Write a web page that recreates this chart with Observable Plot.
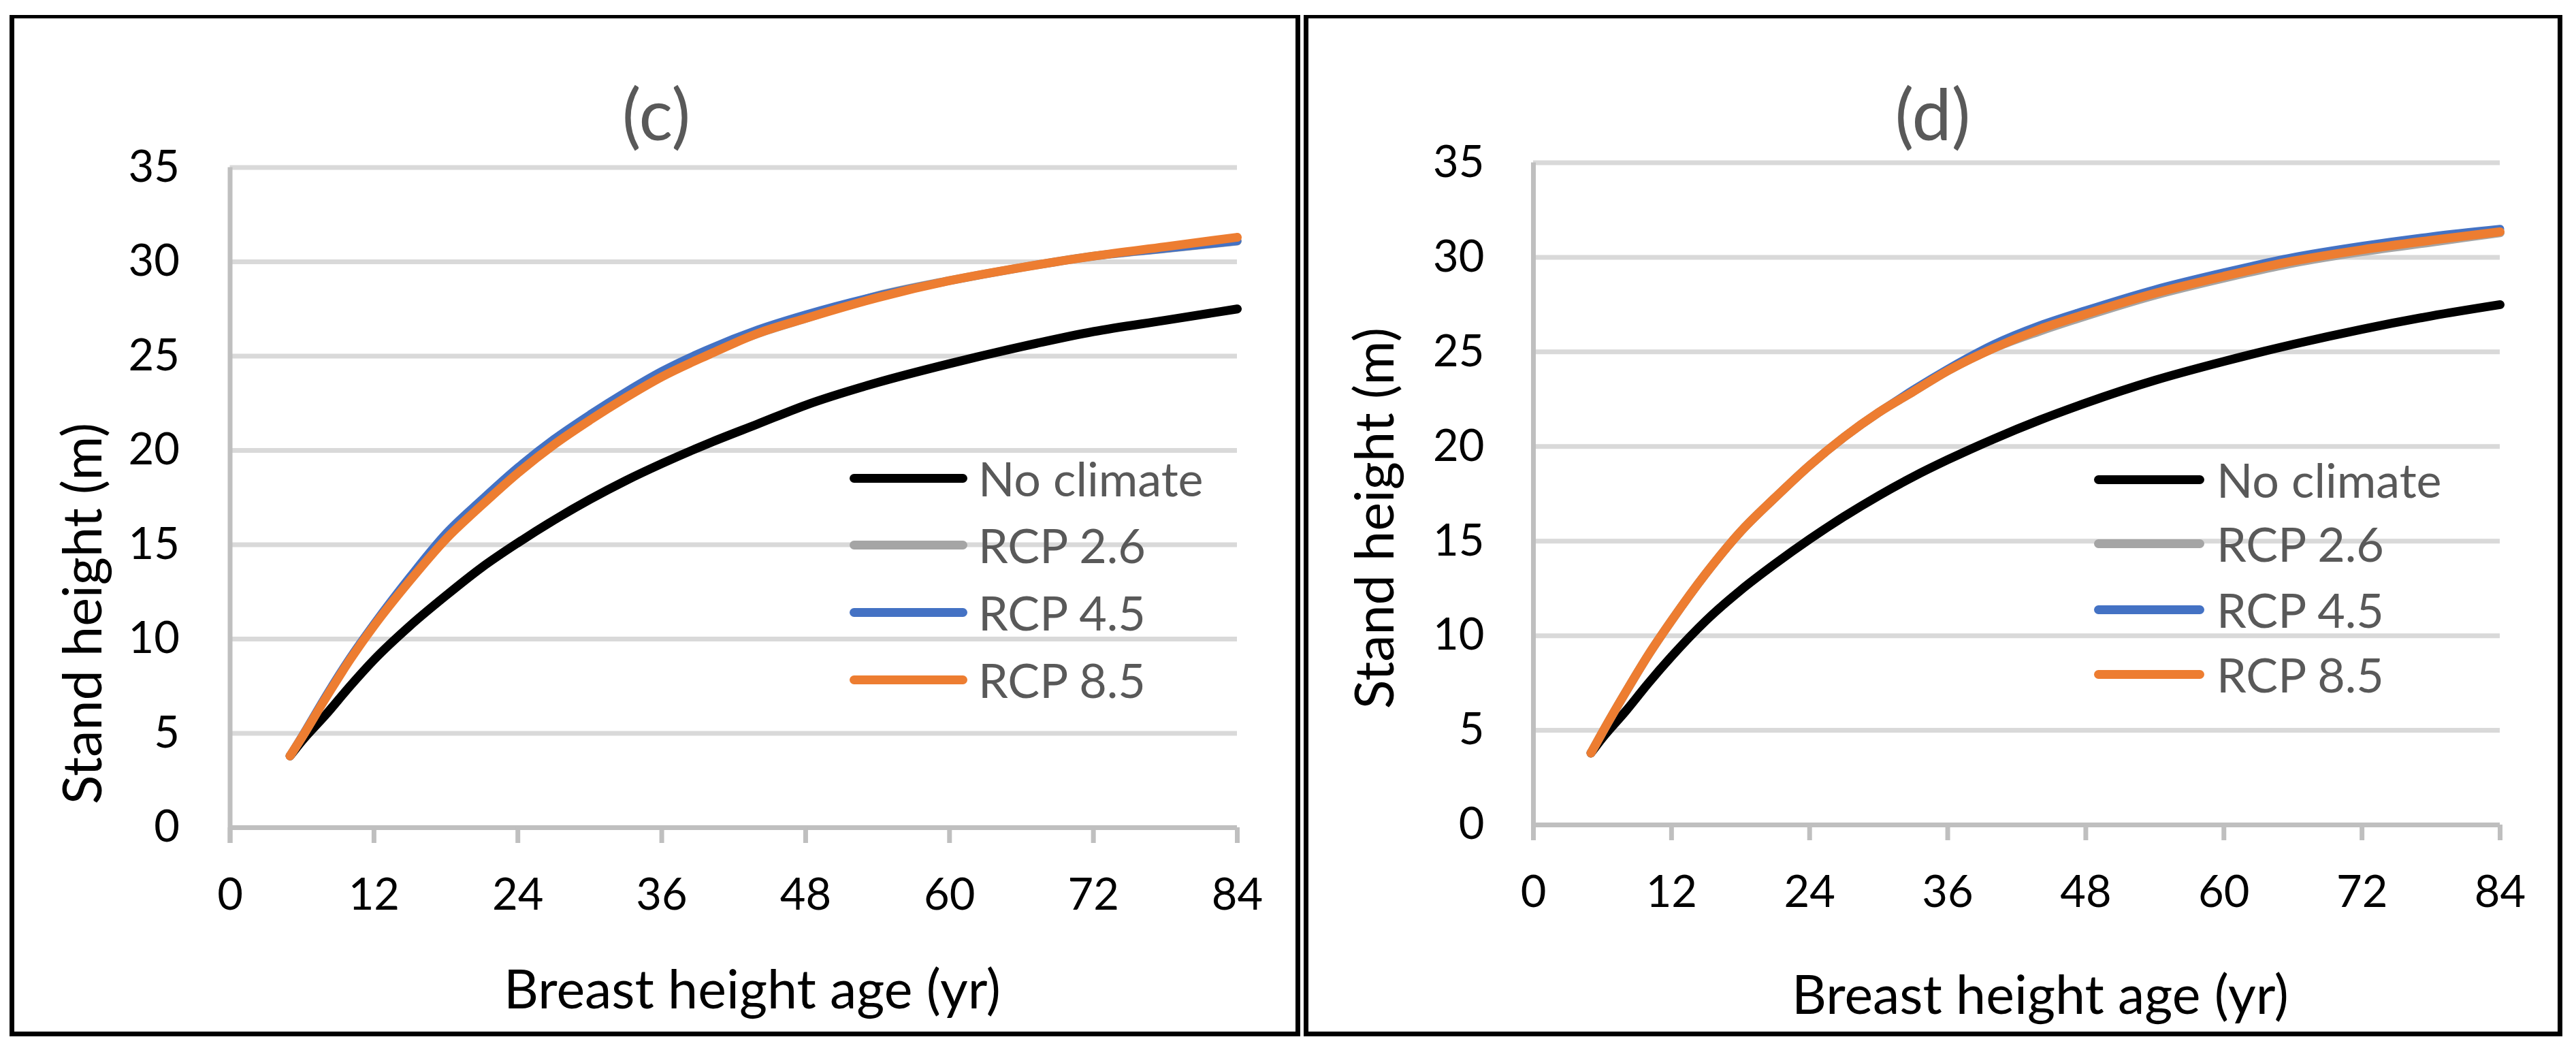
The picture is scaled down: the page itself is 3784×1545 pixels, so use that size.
<!DOCTYPE html>
<html>
<head>
<meta charset="utf-8">
<script src="https://cdn.jsdelivr.net/npm/d3@7"></script>
<script src="https://cdn.jsdelivr.net/npm/@observablehq/plot@0.6"></script>
<style>
  html, body { margin: 0; padding: 0; background: #fff; }
  #root { position: relative; width: 3784px; height: 1545px; overflow: hidden; background: #fff; font-family: Lato, "Open Sans", sans-serif; }
  .frame { position: absolute; box-sizing: border-box; border: 7px solid #000; border-top-width: 5px; }
  .abs { position: absolute; white-space: nowrap; line-height: 1; }
  .plotbox { position: absolute; top: 0; }
  .plotbox svg { max-width: none !important; overflow: visible; }
</style>
</head>
<body>
<div id="root"></div>
<script>
// ---------------- data ----------------
const ages = [5, 6, 8, 10, 12, 15, 18, 21, 24, 27, 30, 33, 36, 40, 44, 48, 54, 60, 66, 72, 78, 84];

// panel (c)
const cNoClimate = [3.8, 4.6, 6.0, 7.5, 8.9, 10.7, 12.3, 13.8, 15.1, 16.3, 17.4, 18.4, 19.3, 20.4, 21.4, 22.4, 23.6, 24.6, 25.5, 26.3, 26.9, 27.5];
const cRcp26     = [3.8, 4.8, 6.95, 8.95, 10.75, 13.2, 15.4, 17.2, 18.9, 20.4, 21.7, 22.9, 24.0, 25.2, 26.2, 27.0, 28.2, 29.0, 29.7, 30.3, 30.7, 31.1];
const cRcp45     = [3.8, 4.85, 7.0, 9.0, 10.8, 13.3, 15.6, 17.4, 19.1, 20.6, 21.9, 23.1, 24.2, 25.4, 26.4, 27.2, 28.2, 29.0, 29.7, 30.3, 30.7, 31.1];
const cRcp85     = [3.8, 4.8, 6.9, 8.9, 10.7, 13.1, 15.3, 17.1, 18.8, 20.3, 21.6, 22.8, 23.9, 25.1, 26.2, 27.0, 28.1, 29.0, 29.7, 30.3, 30.8, 31.3];

// panel (d)
const dNoClimate = [3.8, 4.6, 6.0, 7.5, 8.9, 10.8, 12.4, 13.8, 15.1, 16.3, 17.4, 18.4, 19.3, 20.4, 21.4, 22.3, 23.5, 24.5, 25.4, 26.2, 26.9, 27.5];
const dRcp26     = [3.8, 4.9, 7.0, 9.0, 10.8, 13.3, 15.5, 17.3, 19.0, 20.5, 21.8, 22.9, 24.0, 25.2, 26.1, 26.9, 28.0, 28.9, 29.7, 30.3, 30.8, 31.3];
const dRcp45     = [3.8, 4.9, 7.0, 9.0, 10.8, 13.3, 15.5, 17.3, 19.0, 20.5, 21.8, 23.0, 24.1, 25.4, 26.4, 27.2, 28.3, 29.2, 30.0, 30.6, 31.1, 31.5];
const dRcp85     = [3.8, 4.9, 7.0, 9.0, 10.8, 13.3, 15.5, 17.3, 19.0, 20.5, 21.8, 22.9, 24.0, 25.2, 26.2, 27.0, 28.1, 29.0, 29.8, 30.4, 30.9, 31.35];

const seriesNames  = ["No climate", "RCP 2.6", "RCP 4.5", "RCP 8.5"];
const seriesColors = ["#000000", "#a5a5a5", "#4472c4", "#ed7d31"];
const xTicks = [0, 12, 24, 36, 48, 60, 72, 84];
const yTicks = [0, 5, 10, 15, 20, 25, 30, 35];
const panelTitles = ["(c)", "(d)"];
const xTitle = "Breast height age (yr)";
const yTitle = "Stand height (m)";

// ---------------- drawing ----------------
const root = document.getElementById("root");
const FONT = 'Lato, "Open Sans", sans-serif';

function addDiv(cls, css, text) {
  const d = document.createElement("div");
  d.className = cls;
  Object.assign(d.style, css);
  if (text != null) d.textContent = text;
  root.appendChild(d);
  return d;
}

function panel(cfg) {
  addDiv("frame", {left: cfg.frame[0] + "px", top: cfg.frame[1] + "px",
    width: (cfg.frame[2] - cfg.frame[0]) + "px", height: (cfg.frame[3] - cfg.frame[1]) + "px"});

  const values = cfg.values;
  const rows = seriesNames.map((s, i) => ages.map((a, j) => ({age: a, h: values[i][j], series: s})));

  const lineWidths = [13, 13, 12, 13];
  const chart = Plot.plot({
    width: cfg.width,
    height: 1545,
    marginLeft: cfg.mL, marginRight: cfg.mR, marginTop: cfg.mT, marginBottom: cfg.mB,
    x: {domain: [0, 84]},
    y: {domain: [0, 35]},
    style: {fontFamily: FONT, fontSize: "65px", color: "#000", background: "transparent", overflow: "visible"},
    marks: [
      Plot.gridY(yTicks, {stroke: "#d9d9d9", strokeOpacity: 1, strokeWidth: 7}),
      Plot.ruleY([0], {stroke: "#bfbfbf", strokeWidth: 7}),
      Plot.ruleX([0], {stroke: "#bfbfbf", strokeWidth: 7, insetBottom: -23}),
      Plot.axisX(xTicks, {tickSize: 23, tickPadding: 51, stroke: "#bfbfbf", strokeWidth: 7, strokeOpacity: 1,
        label: null, fontSize: 65, fill: "#000"}),
      Plot.axisY(yTicks, {tickSize: 0, tickPadding: cfg.yPad, label: null, fontSize: 65, fill: "#000"}),
      ...rows.map((r, i) => Plot.line(r, {x: "age", y: "h", stroke: seriesColors[i], strokeWidth: lineWidths[i],
        curve: "monotone-x", strokeLinecap: "round", strokeLinejoin: "round"}))
    ]
  });
  const box = document.createElement("div");
  box.className = "plotbox";
  box.style.left = cfg.left + "px";
  box.style.width = cfg.width + "px";
  box.appendChild(chart);
  root.appendChild(box);

  addDiv("abs", {left: cfg.title[0] + "px", top: cfg.title[1] + "px", transform: "translate(-50%,-50%)",
    fontSize: "104px", color: "#595959", fontFamily: FONT}, cfg.titleText);
  addDiv("abs", {left: cfg.xt[0] + "px", top: cfg.xt[1] + "px", transform: "translate(-50%,-50%)",
    fontSize: "79px", color: "#000", fontFamily: FONT}, xTitle);
  addDiv("abs", {left: cfg.yt[0] + "px", top: cfg.yt[1] + "px", transform: "translate(-50%,-50%) rotate(-90deg)",
    fontSize: "79px", color: "#000", fontFamily: FONT}, yTitle);
  seriesNames.forEach((s, i) => {
    const y = cfg.leg.rows[i];
    addDiv("abs", {left: cfg.leg.x0 + "px", top: (y - 6.5) + "px", width: (cfg.leg.x1 - cfg.leg.x0) + "px",
      height: "13px", borderRadius: "6.5px", background: seriesColors[i]});
    addDiv("abs", {left: cfg.leg.tx + "px", top: y + "px", transform: "translateY(-50%)",
      fontSize: "70px", color: "#595959", fontFamily: FONT}, s);
  });
}

panel({
  frame: [14, 22, 1910, 1522],
  left: 0, width: 1900, mL: 337.5, mR: 83, mT: 245.5, mB: 330, yPad: 74,
  values: [cNoClimate, cRcp26, cRcp45, cRcp85],
  titleText: panelTitles[0], title: [964, 166],
  xt: [1105, 1450], yt: [118, 901],
  leg: {x0: 1248, x1: 1421, tx: 1437, rows: [702, 800, 899, 998]}
});

panel({
  frame: [1915, 22, 3764, 1522],
  left: 1913, width: 1871, mL: 339, mR: 112, mT: 238.5, mB: 334, yPad: 72,
  values: [dNoClimate, dRcp26, dRcp45, dRcp85],
  titleText: panelTitles[1], title: [2839, 166],
  xt: [2997, 1458], yt: [2016, 761],
  leg: {x0: 3076, x1: 3238, tx: 3256, rows: [704, 798, 895, 990]}
});
</script>
</body>
</html>
